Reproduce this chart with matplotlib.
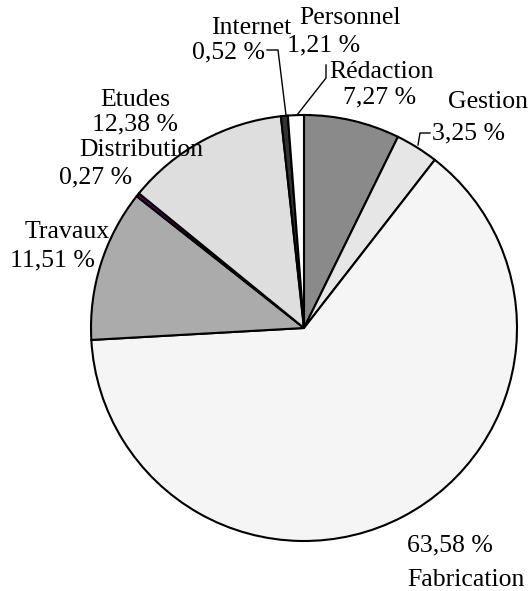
import matplotlib
matplotlib.use("Agg")
import matplotlib.pyplot as plt

labels = ["Rédaction", "Gestion", "Fabrication", "Travaux", "Distribution", "Etudes", "Internet", "Personnel"]
values = [7.27, 3.25, 63.58, 11.51, 0.27, 12.38, 0.52, 1.21]
pct_text = ["7,27 %", "3,25 %", "63,58 %", "11,51 %", "0,27 %", "12,38 %", "0,52 %", "1,21 %"]
colors = ["#8a8a8a", "#e6e6e6", "#f5f5f5", "#ababab", "#660066", "#dedede", "#333333", "#ffffff"]

W, H = 530, 591
fig = plt.figure(figsize=(W / 100, H / 100), dpi=100)
cx, cy, r = 304, 328, 213
ax = fig.add_axes([(cx - r) / W, (H - cy - r) / H, 2 * r / W, 2 * r / H])
ax.pie(values, colors=colors, startangle=90, counterclock=False,
       wedgeprops=dict(edgecolor="black", linewidth=1.5), radius=1.0)
ax.set_xlim(-1, 1)
ax.set_ylim(-1, 1)
ax.set_aspect("equal")
ax.axis("off")

plt.rcParams["font.family"] = ["Liberation Serif"]
fs = 18.5

def P(px, py):
    return ((px - cx) / r, (cy - py) / r)

def t(s, px, py, ha="center"):
    x, y = P(px, py)
    ax.text(x, y, s, ha=ha, va="center", fontsize=fs, family="Liberation Serif", clip_on=False)

# label name positions (pixels) and percent positions
name_pos = {
    "Rédaction": (382, 72), "Gestion": (488, 102), "Fabrication": (466, 580),
    "Travaux": (67, 232), "Distribution": (141, 150), "Etudes": (135, 100),
    "Internet": (251, 28), "Personnel": (350, 18),
}
pct_pos = {
    "Rédaction": (380, 97), "Gestion": (468, 133), "Fabrication": (450, 545),
    "Travaux": (52, 260), "Distribution": (96, 177), "Etudes": (135, 124),
    "Internet": (228, 52), "Personnel": (324, 45),
}
for lab, pt in zip(labels, pct_text):
    t(lab, *name_pos[lab])
    t(pt, *pct_pos[lab])

# leader lines
def leader(pts):
    xs, ys = zip(*[P(*p) for p in pts])
    ax.plot(xs, ys, color="black", linewidth=1.0, clip_on=False)

leader([(267, 50), (278, 50), (286, 115)])
leader([(326, 65), (326, 78), (297, 115)])
leader([(430, 133), (420, 133), (418, 145)])

fig.savefig("out.png", dpi=100)
